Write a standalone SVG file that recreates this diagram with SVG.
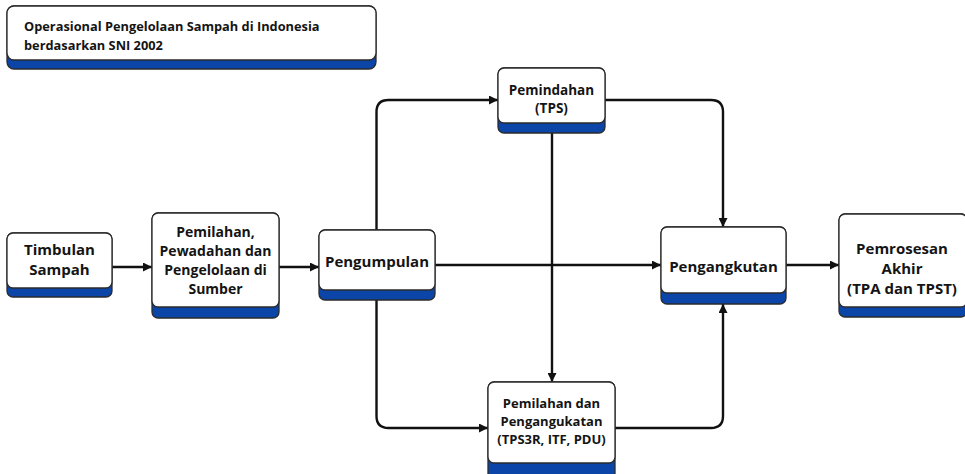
<svg xmlns="http://www.w3.org/2000/svg" width="965" height="474" viewBox="0 0 965 474">
  <style>
    .band { fill: #0b45a8; stroke: #2b2b2b; stroke-width: 1.3; }
    .face { fill: #ffffff; stroke: #2b2b2b; stroke-width: 1.3; }
    .lbl { font-family: "Open Sans", "DejaVu Sans", sans-serif; font-weight: 700; fill: #141414; text-anchor: middle; }
    .title { font-family: "Open Sans", "DejaVu Sans", sans-serif; font-weight: 700; fill: #141414; font-size: 12.8px; }
    .wire { fill: none; stroke: #111111; stroke-width: 2.4; }
  </style>
  <defs>
    <marker id="head" viewBox="0 0 10 10" refX="10" refY="5" markerWidth="9" markerHeight="9" markerUnits="userSpaceOnUse" orient="auto">
      <path d="M0,0 L10,5 L0,10 z" fill="#111111"/>
    </marker>
  </defs>
  <rect width="965" height="474" fill="#ffffff"/>

  <!-- connectors -->
  <g id="connectors">
    <path class="wire" d="M112,267 H152" marker-end="url(#head)"/>
    <path class="wire" d="M279,267 H319" marker-end="url(#head)"/>
    <path class="wire" d="M435,265 H661" marker-end="url(#head)"/>
    <path class="wire" d="M786,265 H839" marker-end="url(#head)"/>
    <path class="wire" d="M376.5,230 V112 Q376.5,100 388.5,100 H498" marker-end="url(#head)"/>
    <path class="wire" d="M605,100 H711 Q723,100 723,112 V227" marker-end="url(#head)"/>
    <path class="wire" d="M552,133 V382" marker-end="url(#head)"/>
    <path class="wire" d="M376.5,300 V416 Q376.5,428 388.5,428 H488" marker-end="url(#head)"/>
    <path class="wire" d="M615,428 H711 Q723,428 723,416 V304" marker-end="url(#head)"/>
  </g>

  <!-- title card -->
  <g id="title">
    <rect class="band" x="7" y="6" width="369" height="63" rx="7"/>
    <rect class="face" x="7" y="6" width="369" height="54" rx="7"/>
    <text class="title" x="24" y="31">Operasional Pengelolaan Sampah di Indonesia</text>
    <text class="title" x="24" y="50">berdasarkan SNI 2002</text>
  </g>

  <g id="timbulan">
    <rect class="band" x="7" y="233" width="105" height="64" rx="6"/>
    <rect class="face" x="7" y="233" width="105" height="55" rx="6"/>
    <text class="lbl" font-size="15" x="59.5" y="255">Timbulan</text>
    <text class="lbl" font-size="15" x="59.5" y="275">Sampah</text>
  </g>

  <g id="pemilahan-sumber">
    <rect class="band" x="152" y="213" width="127" height="105" rx="6"/>
    <rect class="face" x="152" y="213" width="127" height="94" rx="6"/>
    <text class="lbl" font-size="14" x="215.5" y="237">Pemilahan,</text>
    <text class="lbl" font-size="14" x="215.5" y="256">Pewadahan dan</text>
    <text class="lbl" font-size="14" x="215.5" y="275">Pengelolaan di</text>
    <text class="lbl" font-size="14" x="215.5" y="294">Sumber</text>
  </g>

  <g id="pengumpulan">
    <rect class="band" x="319" y="230" width="116" height="70" rx="6"/>
    <rect class="face" x="319" y="230" width="116" height="60" rx="6"/>
    <text class="lbl" font-size="15" x="377" y="267">Pengumpulan</text>
  </g>

  <g id="pemindahan">
    <rect class="band" x="498" y="68" width="107" height="65" rx="6"/>
    <rect class="face" x="498" y="68" width="107" height="55" rx="6"/>
    <text class="lbl" font-size="13.5" x="551.5" y="95">Pemindahan</text>
    <text class="lbl" font-size="13.5" x="551.5" y="113">(TPS)</text>
  </g>

  <g id="pengangkutan">
    <rect class="band" x="661" y="227" width="125" height="77" rx="6"/>
    <rect class="face" x="661" y="227" width="125" height="66" rx="6"/>
    <text class="lbl" font-size="15" x="723.5" y="272">Pengangkutan</text>
  </g>

  <g id="pemrosesan">
    <rect class="band" x="839" y="214" width="128" height="103" rx="6"/>
    <rect class="face" x="839" y="214" width="128" height="93" rx="6"/>
    <text class="lbl" font-size="15" x="902" y="254">Pemrosesan</text>
    <text class="lbl" font-size="15" x="902" y="274">Akhir</text>
    <text class="lbl" font-size="15" x="902" y="294">(TPA dan TPST)</text>
  </g>

  <g id="pemilahan-pengangkutan">
    <rect class="band" x="488" y="382" width="127" height="100" rx="6"/>
    <rect class="face" x="488" y="382" width="127" height="81" rx="6"/>
    <text class="lbl" font-size="13" x="551.5" y="408">Pemilahan dan</text>
    <text class="lbl" font-size="13" x="551.5" y="426">Pengangukatan</text>
    <text class="lbl" font-size="13" x="551.5" y="444">(TPS3R, ITF, PDU)</text>
  </g>
</svg>
